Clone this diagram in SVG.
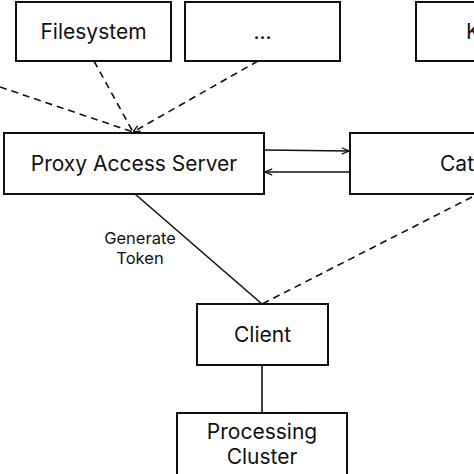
<svg xmlns="http://www.w3.org/2000/svg" width="474" height="474" viewBox="0 0 474 474">
<defs>
<style>
.box{fill:#fff;stroke:#111;stroke-width:2}
.t{font-family:Inter,"Noto Sans","Liberation Sans",sans-serif;font-size:21px;fill:#111;text-anchor:middle}
.s{font-family:Inter,"Noto Sans","Liberation Sans",sans-serif;font-size:16.5px;fill:#111;text-anchor:middle}
.ln{stroke:#111;stroke-width:1.6;fill:none}
.dash{stroke:#111;stroke-width:1.6;fill:none;stroke-dasharray:7 5}
</style>
<marker id="arr" viewBox="0 0 10 10" refX="10" refY="5" markerWidth="8" markerHeight="8" markerUnits="userSpaceOnUse" orient="auto">
<path d="M1,1 L10,5 L1,9" fill="none" stroke="#111" stroke-width="1.6"/>
</marker>
</defs>
<rect width="474" height="474" fill="#fff"/>
<g id="connectors">
<line class="dash" x1="0" y1="87" x2="133" y2="132"/>
<line class="dash" x1="94" y1="61" x2="133" y2="132"/>
<line class="dash" x1="258" y1="61" x2="133" y2="132" marker-end="url(#arr)"/>
<line class="ln" x1="264" y1="150" x2="349" y2="151" marker-end="url(#arr)"/>
<line class="ln" x1="350" y1="172" x2="265" y2="172" marker-end="url(#arr)"/>
<line class="ln" x1="135" y1="194" x2="262" y2="304"/>
<line class="dash" x1="472" y1="197" x2="262" y2="304"/>
<line class="ln" x1="262" y1="365" x2="262" y2="413"/>
<text class="s" x="140" y="244">Generate</text>
<text class="s" x="140" y="264">Token</text>
</g>
<g id="filesystem">
<rect class="box" x="16" y="2" width="155" height="59"/>
<text class="t" x="93.5" y="39">Filesystem</text>
</g>
<g id="ellipsis">
<rect class="box" x="185" y="2" width="155" height="59"/>
<text class="t" x="262.5" y="39">...</text>
</g>
<g id="k-node">
<rect class="box" x="416" y="2" width="80" height="59"/>
<text class="t" x="466" y="39" style="text-anchor:start">K</text>
</g>
<g id="proxy">
<rect class="box" x="4" y="133" width="260" height="61"/>
<text class="t" x="134" y="171">Proxy Access Server</text>
</g>
<g id="cat">
<rect class="box" x="350" y="133" width="150" height="61"/>
<text class="t" x="440" y="171" style="text-anchor:start">Cat</text>
</g>
<g id="client">
<rect class="box" x="197" y="304" width="131" height="61"/>
<text class="t" x="262.5" y="342">Client</text>
</g>
<g id="processing">
<rect class="box" x="177" y="413" width="170" height="80"/>
<text class="t" x="262" y="439">Processing</text>
<text class="t" x="262" y="464">Cluster</text>
</g>
</svg>
